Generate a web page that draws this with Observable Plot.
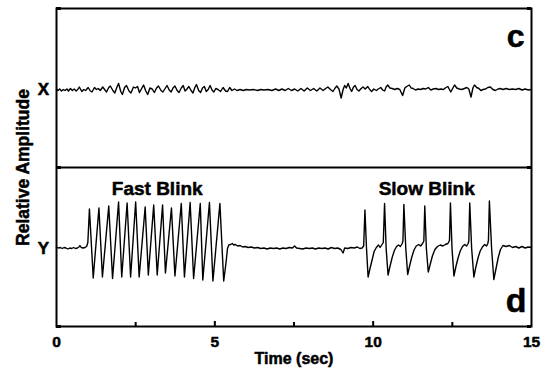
<!DOCTYPE html>
<html>
<head>
<meta charset="utf-8">
<script src="https://cdn.jsdelivr.net/npm/d3@7"></script>
<script src="https://cdn.jsdelivr.net/npm/@observablehq/plot@0.6"></script>
<style>
  body { margin: 0; background: #fff; }
  svg { display: block; }
</style>
</head>
<body>
<div id="chart"></div>
<script>
// ---- axis / labels ----
const timeTickLabels = [0, 5, 10, 15];
const majorTickTimes = [5, 10];
const minorTickTimes = [2.5, 7.5, 12.5];
const traceNames = ["X", "Y"];
const traceOffsets = [3.18, 0];          // vertical stacking of the two channels
const panelLetters = ["c", "d"];
const panelEdges = [-1.56, 1.62, 4.80];  // bottom of d, divider, top of c
const blinkLabels = ["Fast Blink", "Slow Blink"];
const blinkLabelTimes = [3.18, 11.69];
const blinkLabelAmp = [1.07, 1.07];

// ---- channel X (panel c) : time (sec), relative amplitude ----
const xTimes = [0.00,0.05,0.10,0.16,0.22,0.27,0.33,0.38,0.44,0.50,0.56,0.62,0.67,0.72,0.80,0.86,0.92,1.00,1.07,1.12,
  1.20,1.26,1.32,1.38,1.46,1.52,1.58,1.65,1.70,1.78,1.84,1.91,1.96,2.03,2.08,2.15,2.21,2.29,2.35,2.43,
  2.49,2.56,2.62,2.69,2.75,2.82,2.88,2.95,3.02,3.09,3.16,3.22,3.30,3.36,3.43,3.49,3.56,3.62,3.68,3.74,
  3.81,3.87,3.94,4.00,4.06,4.12,4.18,4.25,4.31,4.37,4.42,4.49,4.55,4.61,4.67,4.73,4.79,4.85,4.92,4.97,
  5.03,5.10,5.18,5.26,5.34,5.40,5.47,5.54,5.62,5.70,5.80,5.90,6.00,6.10,6.22,6.35,6.45,6.55,6.68,6.80,
  6.92,7.02,7.12,7.22,7.32,7.42,7.52,7.62,7.72,7.82,7.92,8.02,8.12,8.22,8.32,8.42,8.50,8.57,8.65,8.73,
  8.80,8.85,8.92,8.99,9.05,9.10,9.15,9.21,9.27,9.32,9.38,9.43,9.49,9.55,9.62,9.68,9.75,9.83,9.89,9.95,
  10.02,10.10,10.16,10.24,10.30,10.36,10.41,10.46,10.53,10.60,10.68,10.76,10.84,10.93,11.00,11.06,11.14,11.20,11.26,11.34,
  11.42,11.50,11.58,11.66,11.74,11.82,11.90,11.98,12.06,12.14,12.22,12.30,12.36,12.45,12.51,12.57,12.64,12.72,12.80,12.88,
  12.96,13.02,13.09,13.15,13.20,13.27,13.34,13.40,13.47,13.55,13.62,13.70,13.78,13.86,13.94,14.02,14.10,14.20,14.30,14.40,
  14.50,14.60,14.70,14.80,14.90,15.00];
const xAmps = [0.01,-0.02,0.01,-0.03,0.00,-0.02,0.01,-0.03,0.02,-0.02,0.01,-0.03,0.00,0.05,-0.04,0.00,-0.02,0.04,-0.03,-0.05,
  0.04,0.00,0.02,-0.02,0.05,0.00,-0.05,0.04,0.07,-0.02,-0.07,0.05,0.12,-0.04,-0.10,0.04,0.08,-0.03,-0.07,0.05,
  0.03,0.06,-0.06,0.02,0.09,-0.03,-0.10,0.03,0.01,-0.06,0.03,0.07,-0.02,-0.05,0.02,0.08,-0.01,-0.05,0.03,0.07,
  -0.02,-0.06,0.03,0.08,-0.03,0.01,0.06,-0.02,-0.07,0.04,0.10,-0.02,-0.06,0.03,0.06,-0.04,0.00,0.08,-0.02,-0.05,
  0.02,0.00,-0.04,0.04,-0.03,-0.04,0.04,-0.02,0.01,-0.02,0.00,-0.02,0.00,-0.01,0.00,-0.02,0.00,-0.01,0.00,-0.02,
  0.01,-0.02,0.01,-0.02,0.02,-0.02,0.01,-0.03,0.02,-0.03,0.03,-0.02,0.02,-0.03,0.03,-0.02,0.02,0.05,0.00,-0.04,
  0.03,0.07,0.01,-0.17,0.00,0.08,0.03,0.12,0.02,-0.04,0.05,0.08,0.00,-0.03,0.02,0.05,0.01,0.06,0.00,-0.04,
  0.01,-0.02,0.01,0.04,-0.01,-0.03,0.05,0.09,0.03,0.02,0.00,0.02,0.00,-0.12,0.03,0.06,0.09,0.03,0.02,-0.01,
  0.01,0.00,0.02,0.01,0.04,-0.01,0.01,0.02,0.00,0.01,0.00,0.04,0.06,-0.05,0.02,0.09,0.03,0.01,0.00,0.02,
  0.04,0.01,-0.15,0.03,0.09,0.04,0.02,-0.02,0.00,0.01,0.04,0.05,0.00,-0.02,0.01,0.02,0.00,0.02,0.00,0.01,
  0.00,0.02,-0.01,0.01,-0.01,0.00];

// ---- channel Y (panel d) : time (sec), relative amplitude ----
const yTimes = [0.00,0.06,0.12,0.18,0.24,0.30,0.36,0.42,0.48,0.54,0.60,0.66,0.71,0.74,0.78,0.84,0.90,0.95,0.99,
  1.04,1.16,1.34,1.45,1.65,1.77,1.96,2.06,2.23,2.34,2.50,2.61,2.80,2.90,3.07,3.18,3.35,3.44,3.63,3.74,
  3.94,4.04,4.22,4.33,4.54,4.62,4.83,4.94,5.16,5.28,5.35,5.40,5.44,5.50,5.55,5.60,5.65,5.72,5.80,5.88,
  5.96,6.05,6.15,6.25,6.35,6.45,6.55,6.65,6.75,6.85,6.95,7.05,7.15,7.25,7.35,7.45,7.52,7.58,7.68,7.78,
  7.88,7.98,8.08,8.18,8.28,8.38,8.48,8.58,8.68,8.78,8.88,8.98,9.05,9.10,9.20,9.30,9.40,9.50,9.58,9.65,
  9.70,9.74,9.79,9.84,9.90,9.97,10.03,10.10,10.17,10.22,10.28,10.32,10.36,10.41,10.47,10.53,10.60,10.67,10.74,10.80,
  10.86,10.91,10.94,10.97,11.03,11.09,11.15,11.22,11.29,11.36,11.44,11.50,11.56,11.60,11.63,11.68,11.74,11.80,11.87,11.95,
  12.03,12.12,12.20,12.28,12.36,12.41,12.44,12.49,12.55,12.61,12.68,12.75,12.82,12.89,12.95,13.00,13.02,13.05,13.11,13.18,
  13.24,13.31,13.38,13.45,13.52,13.58,13.62,13.64,13.67,13.74,13.81,13.88,13.95,14.02,14.10,14.20,14.30,14.40,14.50,14.60,
  14.70,14.80,14.90,15.00];
const yAmps = [0.03,0.01,0.02,0.00,0.02,0.01,-0.01,0.01,0.00,0.02,0.00,0.01,0.03,0.06,0.02,0.01,0.02,0.04,0.12,
  0.79,-0.59,0.81,-0.57,0.85,-0.60,0.93,-0.57,0.91,-0.57,0.93,-0.57,0.83,-0.53,0.87,-0.53,0.87,-0.49,0.81,-0.55,
  0.90,-0.57,0.92,-0.60,0.90,-0.63,0.92,-0.65,0.90,-0.65,-0.30,0.00,0.07,0.08,0.10,0.07,0.08,0.05,0.06,0.03,
  0.04,0.02,0.03,0.01,0.02,0.00,0.01,-0.01,0.01,0.00,0.01,-0.01,0.01,0.00,0.02,0.01,0.05,0.01,0.00,-0.01,
  0.01,0.00,0.01,-0.01,0.01,0.00,0.01,-0.01,0.02,0.00,0.01,-0.02,-0.09,0.01,0.00,0.02,0.01,0.03,0.00,0.01,
  0.05,0.77,0.00,-0.57,-0.40,-0.22,-0.06,0.02,0.07,0.02,0.08,0.12,0.90,0.00,-0.53,-0.36,-0.18,-0.04,0.04,0.07,
  0.04,0.09,0.15,0.88,0.00,-0.52,-0.35,-0.17,-0.03,0.05,0.08,0.05,0.10,0.15,0.85,0.00,-0.47,-0.32,-0.15,-0.02,
  0.04,0.07,0.05,0.08,0.10,0.16,0.91,0.00,-0.55,-0.37,-0.19,-0.05,0.04,0.08,0.05,0.10,0.15,0.91,0.00,-0.57,
  -0.38,-0.19,-0.05,0.03,0.08,0.05,0.10,0.16,0.95,0.00,-0.62,-0.40,-0.18,-0.02,0.06,0.04,0.06,0.02,0.04,0.01,
  0.04,0.01,0.03,0.02];

const font = "'Liberation Sans', Arial, Helvetica, sans-serif";
// heavy bold text, like the original figure
const heavy = { fontWeight: "bold", fill: "black", stroke: "black", strokeWidth: 0.5, strokeLinejoin: "round" };

const chart = Plot.plot({
  width: 553,
  height: 373,
  marginLeft: 56,
  marginRight: 22,
  marginTop: 8,
  marginBottom: 47,
  style: { fontFamily: font, color: "black", background: "white" },
  x: { domain: [0, 15], axis: null },
  y: { domain: [panelEdges[0], panelEdges[2]], axis: null },
  marks: [
    // traces
    Plot.line(xTimes, { x: xTimes, y: xAmps.map(v => v + traceOffsets[0]), stroke: "black", strokeWidth: 1.4 }),
    Plot.line(yTimes, { x: yTimes, y: yAmps.map(v => v + traceOffsets[1]), stroke: "black", strokeWidth: 1.4 }),
    // frame and panel divider
    Plot.frame({ stroke: "black", strokeWidth: 2 }),
    Plot.ruleY([panelEdges[1]], { stroke: "black", strokeWidth: 2 }),
    // inward ticks
    Plot.ruleX(majorTickTimes, { stroke: "black", strokeWidth: 2, insetTop: 313 }),
    Plot.ruleX(minorTickTimes, { stroke: "black", strokeWidth: 2, insetTop: 314 }),
    Plot.ruleY(panelEdges, { stroke: "black", strokeWidth: 3, insetRight: 470 }),
    Plot.ruleY(panelEdges, { stroke: "black", strokeWidth: 3, insetLeft: 471 }),
    // x tick labels
    Plot.text(timeTickLabels, { x: d => d, frameAnchor: "bottom", lineAnchor: "top", textAnchor: "middle", dy: 9, fontSize: 15.5, ...heavy }),
    Plot.text(["Time (sec)"], { frameAnchor: "bottom", lineAnchor: "bottom", dy: 37, fontSize: 16, ...heavy }),
    Plot.text(["Relative Amplitude"], { frameAnchor: "left", rotate: -90, lineAnchor: "bottom", textAnchor: "middle", dx: -28, fontSize: 17.5, ...heavy }),
    // channel names
    Plot.text(traceNames, { x: traceNames.map(() => 0), y: traceOffsets, dx: -13, textAnchor: "middle", lineAnchor: "middle", fontSize: 17, ...heavy }),
    // panel letters
    Plot.text([panelLetters[0]], { frameAnchor: "top-right", textAnchor: "end", lineAnchor: "bottom", dx: -7, dy: 38.5, fontSize: 32, ...heavy }),
    Plot.text([panelLetters[1]], { frameAnchor: "bottom-right", textAnchor: "end", lineAnchor: "bottom", dx: -5, dy: -14.5, fontSize: 34, ...heavy }),
    // blink annotations
    Plot.text(blinkLabels, { x: blinkLabelTimes, y: blinkLabelAmp, textAnchor: "middle", lineAnchor: "bottom", fontSize: 19, ...heavy })
  ]
});

document.getElementById("chart").appendChild(chart);
</script>
</body>
</html>
